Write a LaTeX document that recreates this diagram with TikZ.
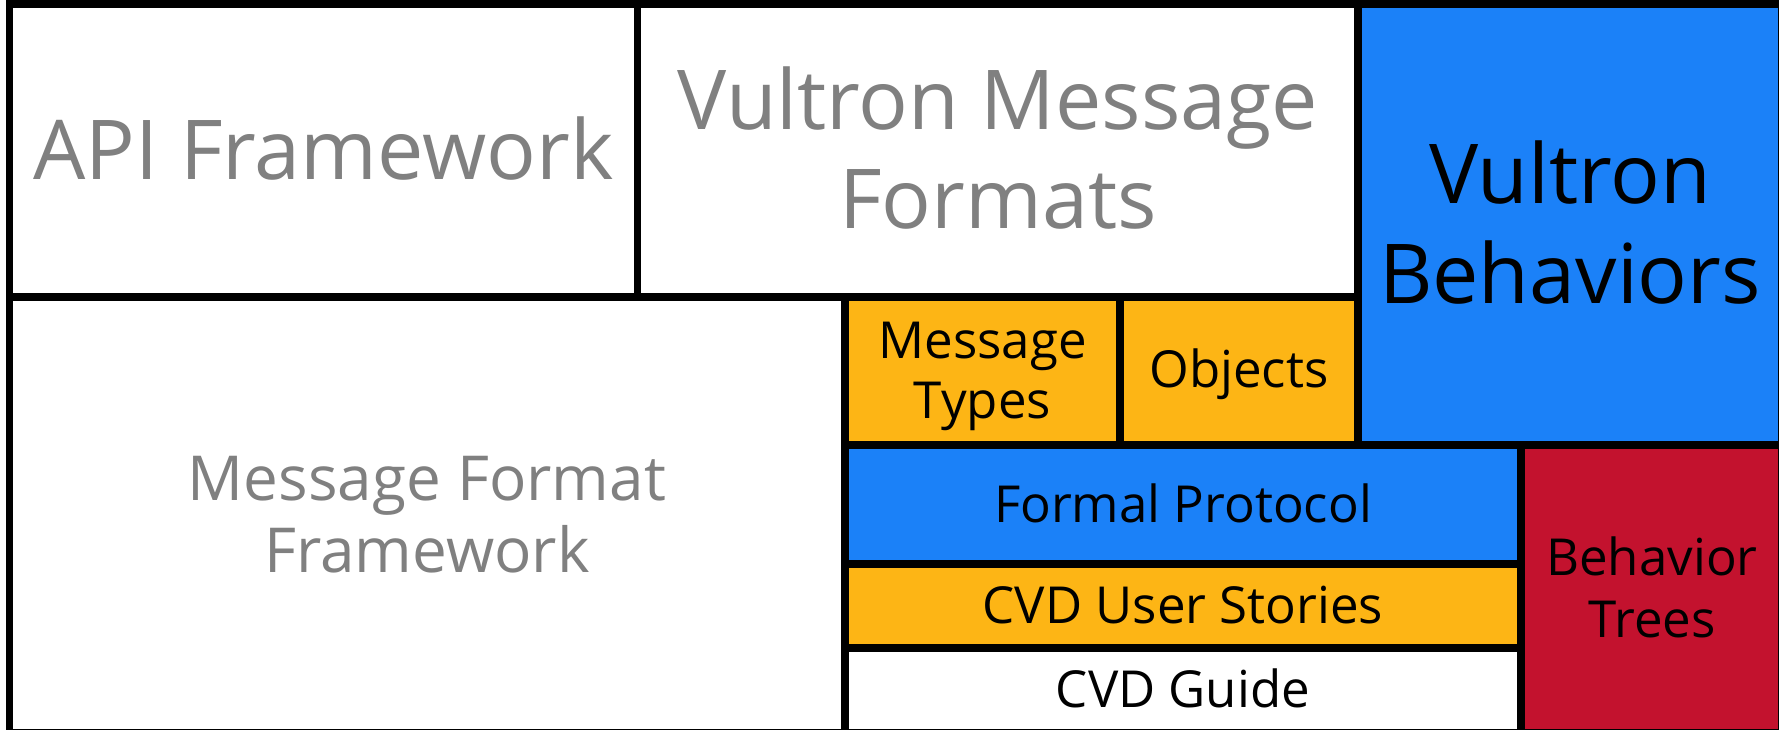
\documentclass[tikz,border=0pt]{standalone}
\usepackage{fontspec}
\setmainfont{Open Sans}
\definecolor{vblue}{RGB}{27,129,248}
\definecolor{vorange}{RGB}{253,181,21}
\definecolor{vred}{RGB}{195,18,46}
\definecolor{vgray}{RGB}{128,128,128}
\begin{document}
\begin{tikzpicture}[x=1pt,y=-1pt,
  boxn/.style={inner sep=0pt,outer sep=0pt,draw=none},
  border/.style={line width=7.5pt,draw=black,line join=miter},
  bigtxt/.style={anchor=base,inner sep=0pt,font=\fontsize{82.6}{99}\selectfont},
  midtxt/.style={anchor=base,inner sep=0pt,font=\fontsize{62}{72}\selectfont},
  smalltxt/.style={anchor=base,inner sep=0pt,font=\fontsize{51}{61}\selectfont}]
\useasboundingbox (0,0) rectangle (1779,730);
\fill[white] (0,0) rectangle (1779,730);
% boxes
\node[boxn,fill=white,minimum width=628pt,minimum height=293pt] (api) at (323.5,150.5) {};
\node[boxn,fill=white,minimum width=720.5pt,minimum height=293pt] (vmf) at (997.75,150.5) {};
\node[boxn,fill=vblue,minimum width=424pt,minimum height=441pt] (vb) at (1570,224.5) {};
\node[boxn,fill=white,minimum width=835.5pt,minimum height=435.5pt] (mff) at (427.25,514.75) {};
\node[boxn,fill=vorange,minimum width=275pt,minimum height=148pt] (mt) at (982.5,371) {};
\node[boxn,fill=vorange,minimum width=238pt,minimum height=148pt] (obj) at (1239,371) {};
\node[boxn,fill=vblue,minimum width=676pt,minimum height=119pt] (fp) at (1183,504.5) {};
\node[boxn,fill=vorange,minimum width=676pt,minimum height=84pt] (cus) at (1183,606) {};
\node[boxn,fill=white,minimum width=676pt,minimum height=84.5pt] (cg) at (1183,690.25) {};
\node[boxn,fill=vred,minimum width=261pt,minimum height=287.5pt] (bt) at (1651.5,588.75) {};
\foreach \n in {api,vmf,vb,mff,mt,obj,fp,cus,cg,bt}
  \draw[border] (\n.north west) rectangle (\n.south east);
% texts
\node[bigtxt,text=vgray] (tapi) at (323.5,179) {API Framework};
\node[bigtxt,text=vgray] (tvmf1) at (998,130) {Vultron Message};
\node[bigtxt,text=vgray] (tvmf2) at (998,228) {Formats};
\node[bigtxt,text=black] (tvb1) at (1570,204) {Vultron};
\node[bigtxt,text=black] (tvb2) at (1570,303) {Behaviors};
\node[midtxt,text=vgray] (tmff1) at (427,500) {Message Format};
\node[midtxt,text=vgray] (tmff2) at (427,572) {Framework};
\node[smalltxt] (tmt1) at (982.5,358) {Message};
\node[smalltxt] (tmt2) at (982.5,418) {Types};
\node[smalltxt] (tobj) at (1239,387) {Objects};
\node[smalltxt] (tfp) at (1183,522) {Formal Protocol};
\node[smalltxt] (tcus) at (1183,623) {CVD User Stories};
\node[smalltxt] (tcg) at (1183,707) {CVD Guide};
\node[smalltxt] (tbt1) at (1652,575) {Behavior};
\node[smalltxt] (tbt2) at (1652,637) {Trees};
\end{tikzpicture}
\end{document}
